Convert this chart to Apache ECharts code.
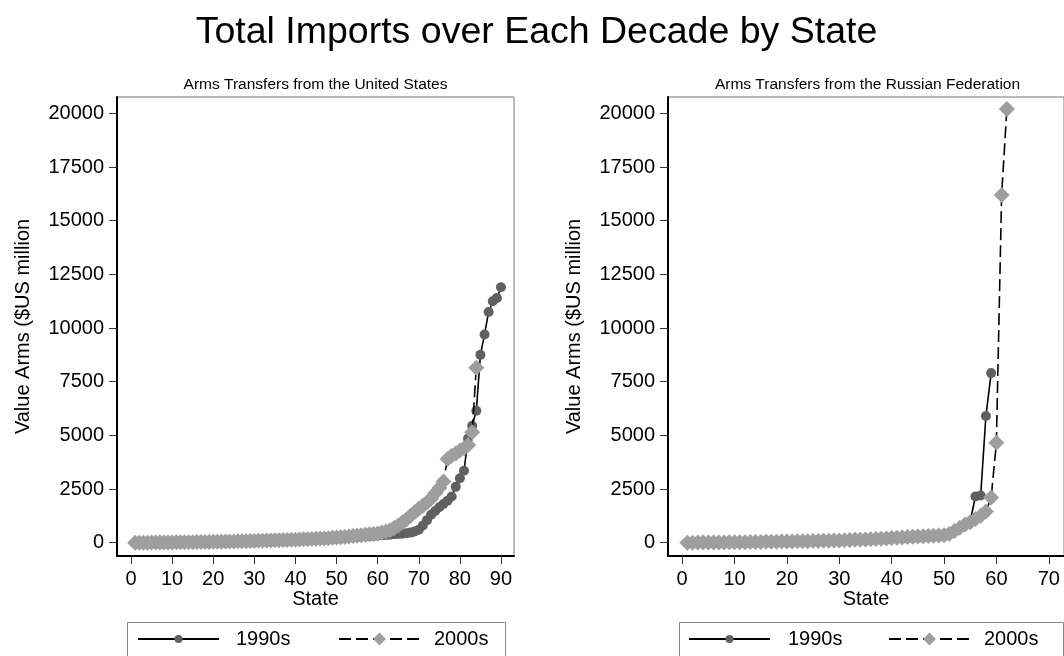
<!DOCTYPE html>
<html>
<head>
<meta charset="utf-8">
<script src="https://cdn.jsdelivr.net/npm/echarts@6/dist/echarts.min.js"></script>
<style>
html,body{margin:0;padding:0;background:#fff;}
#chart{width:1064px;height:656px;}
</style>
</head>
<body>
<div id="chart"></div>
<script>
// ---- Data ----
var mainTitle = "Total Imports over Each Decade by State";
var panelTitles = ["Arms Transfers from the United States", "Arms Transfers from the Russian Federation"];
var seriesNames = ["1990s", "2000s"];
var yTicks = [0, 2500, 5000, 7500, 10000, 12500, 15000, 17500, 20000];
var xTicksUS = [0, 10, 20, 30, 40, 50, 60, 70, 80, 90];
var xTicksRU = [0, 10, 20, 30, 40, 50, 60, 70];

// United States, 1990s (states 1..90, sorted by value)
var us1990s = [
  0, 1, 2, 3, 4, 5, 6, 7, 8, 10,
  12, 14, 16, 18, 20, 22, 25, 28, 31, 34,
  37, 40, 44, 48, 52, 56, 60, 65, 70, 75,
  80, 85, 90, 96, 102, 108, 114, 120, 127, 134,
  141, 148, 155, 162, 170, 178, 186, 195, 205, 215,
  225, 235, 245, 255, 265, 275, 285, 300, 315, 330,
  345, 360, 375, 390, 405, 420, 440, 470, 520, 600,
  800, 1050, 1300, 1480, 1650, 1800, 1950, 2150, 2600, 3000,
  3350, 4850, 5450, 6150, 8750, 9700, 10750, 11250, 11400, 11900
];
// United States, 2000s (states 1..84)
var us2000s = [
  0, 1, 2, 3, 4, 6, 8, 10, 12, 14,
  16, 18, 20, 22, 25, 28, 31, 34, 37, 40,
  44, 48, 52, 56, 60, 64, 68, 72, 77, 82,
  87, 92, 97, 102, 108, 114, 120, 126, 133, 140,
  147, 155, 163, 171, 180, 190, 200, 212, 225, 240,
  255, 270, 290, 310, 330, 350, 370, 390, 410, 430,
  470, 520, 580, 680, 800, 940, 1080, 1250, 1420, 1580,
  1720, 1880, 2050, 2300, 2550, 2850, 3900, 4050, 4150, 4300,
  4400, 4550, 5150, 8150
];
// Russian Federation, 1990s (states 1..59)
var ru1990s = [
  0, 2, 4, 6, 8, 10, 12, 14, 16, 18,
  20, 23, 26, 29, 32, 35, 38, 41, 45, 49,
  53, 57, 61, 65, 70, 75, 80, 85, 90, 96,
  102, 108, 115, 122, 130, 138, 146, 155, 164, 174,
  184, 195, 206, 218, 230, 245, 260, 280, 310, 380,
  460, 570, 690, 830, 1000, 2150, 2200, 5900, 7900
];
// Russian Federation, 2000s (states 1..62)
var ru2000s = [
  0, 2, 4, 6, 8, 10, 12, 14, 17, 20,
  23, 26, 29, 32, 35, 38, 42, 46, 50, 54,
  58, 62, 67, 72, 77, 82, 88, 94, 100, 107,
  115, 125, 132, 140, 150, 160, 172, 185, 200, 215,
  230, 245, 260, 275, 290, 305, 315, 325, 335, 345,
  400, 550, 700, 850, 950, 1100, 1250, 1450, 2100, 4650,
  16200, 20200
];

// ---- Build chart ----
function pairs(arr) { return arr.map(function (v, i) { return [i + 1, v]; }); }
var FONT = "'Liberation Sans', Arial, Helvetica, sans-serif";

function xAxisDef(gridIndex, min, max, ticks) {
  return {
    type: 'value', gridIndex: gridIndex, min: min, max: max,
    name: 'State', nameLocation: 'middle', nameGap: 33, nameMoveOverlap: false,
    nameTextStyle: { fontSize: 20, color: '#000', fontFamily: FONT },
    axisLine: { show: true, onZero: false, lineStyle: { color: '#000', width: 2 } },
    axisTick: { show: true, length: 8, customValues: ticks, lineStyle: { color: '#333', width: 1 } },
    axisLabel: { customValues: ticks, fontSize: 20, color: '#000', margin: 13, fontFamily: FONT,
                 formatter: function (v) { return String(v); } },
    splitLine: { show: false }
  };
}
function yAxisDef(gridIndex) {
  return {
    type: 'value', gridIndex: gridIndex, min: -620, max: 20761,
    name: 'Value Arms ($US million', nameLocation: 'middle', nameRotate: 90, nameGap: 84,
    nameTextStyle: { fontSize: 20, color: '#000', fontFamily: FONT },
    axisLine: { show: true, onZero: false, lineStyle: { color: '#000', width: 2 } },
    axisTick: { show: true, length: 8, customValues: yTicks, lineStyle: { color: '#333', width: 1 } },
    axisLabel: { customValues: yTicks, fontSize: 20, color: '#000', margin: 13, fontFamily: FONT,
                 formatter: function (v) { return String(v); } },
    splitLine: { show: false }
  };
}
function s1990(xi, data) {
  return {
    name: seriesNames[0], type: 'line', xAxisIndex: xi, yAxisIndex: xi, data: pairs(data),
    symbol: 'circle', symbolSize: 10, showAllSymbol: true,
    lineStyle: { color: '#000', width: 1.6 },
    itemStyle: { color: '#606060' },
    emphasis: { disabled: true }, z: 2
  };
}
function s2000(xi, data) {
  return {
    name: seriesNames[1], type: 'line', xAxisIndex: xi, yAxisIndex: xi, data: pairs(data),
    symbol: 'diamond', symbolSize: 16, showAllSymbol: true,
    lineStyle: { color: '#000', width: 1.6, type: [12, 5] },
    itemStyle: { color: '#9e9e9e' },
    emphasis: { disabled: true }, z: 3
  };
}
// one legend per entry so each key symbol can have its own size
function legendItem(name, left, itemHeight, padLeft) {
  return {
    data: [name], left: left, top: 629, orient: 'horizontal',
    itemWidth: 81, itemHeight: itemHeight, padding: 0,
    selectedMode: false,
    textStyle: { fontSize: 20, color: '#000', fontFamily: FONT, padding: [0, 0, 0, padLeft] }
  };
}
function legendBox(x, w) {
  return { type: 'rect', x: x + 0.5, y: 622.5, shape: { width: w, height: 44 },
           style: { fill: '#fff', stroke: '#888', lineWidth: 1 }, z: -1 };
}

var chart = echarts.init(document.getElementById('chart'), null, { renderer: 'canvas' });
chart.setOption({
  animation: false,
  backgroundColor: '#fff',
  textStyle: { fontFamily: FONT },
  title: [{
    text: mainTitle, left: 536.5, textAlign: 'center', top: 14, padding: 0,
    textStyle: { fontSize: 37.5, fontWeight: 'normal', color: '#000', fontFamily: FONT }
  }],
  graphic: [
    { type: 'text', x: 315.5, y: 85, style: { text: panelTitles[0], fontSize: 15.5, fill: '#000', align: 'center', verticalAlign: 'middle', fontFamily: FONT } },
    { type: 'text', x: 867.5, y: 85, style: { text: panelTitles[1], fontSize: 15.5, fill: '#000', align: 'center', verticalAlign: 'middle', fontFamily: FONT } },
    legendBox(127, 378),
    legendBox(679, 384)
  ],
  grid: [
    { left: 117, top: 97, width: 397, height: 459, show: true, borderColor: '#777', borderWidth: 1, backgroundColor: '#fff' },
    { left: 668, top: 97, width: 400, height: 459, show: true, borderColor: '#777', borderWidth: 1, backgroundColor: '#fff' }
  ],
  xAxis: [xAxisDef(0, -3.41, 93.17, xTicksUS), xAxisDef(1, -2.70, 72.91, xTicksRU)],
  yAxis: [yAxisDef(0), yAxisDef(1)],
  legend: [
    legendItem(seriesNames[0], 137, 10, 12),
    legendItem(seriesNames[1], 338, 16, 9),
    legendItem(seriesNames[0], 688, 10, 13),
    legendItem(seriesNames[1], 888, 16, 9)
  ],
  series: [s1990(0, us1990s), s2000(0, us2000s), s1990(1, ru1990s), s2000(1, ru2000s)]
});
</script>
</body>
</html>
